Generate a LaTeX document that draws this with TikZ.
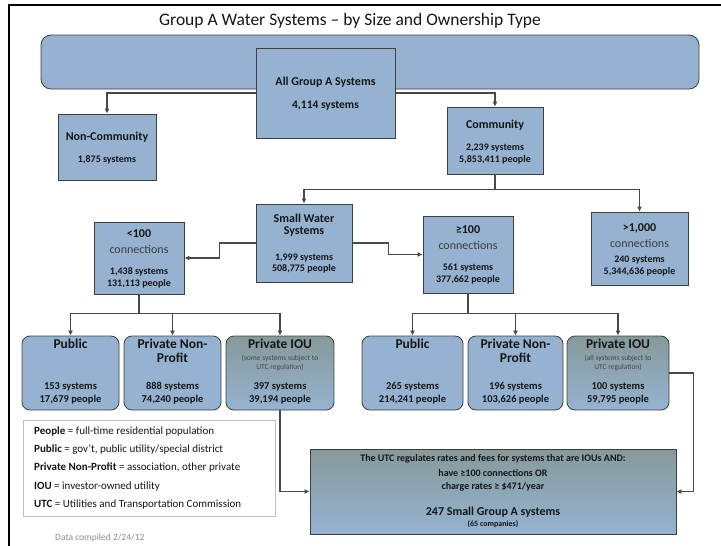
\documentclass[tikz,border=0pt]{standalone}
\usepackage{fontspec}
\setmainfont{Carlito}
\usetikzlibrary{arrows.meta}
\definecolor{boxc}{RGB}{149,179,209}
\definecolor{bordc}{RGB}{62,62,62}
\definecolor{linec}{RGB}{72,72,72}
\definecolor{gtop}{RGB}{134,154,154}
\definecolor{txtc}{RGB}{22,22,22}
\definecolor{conc}{RGB}{60,60,60}
\definecolor{smc}{RGB}{70,70,70}
\definecolor{lgc}{RGB}{190,190,190}
\definecolor{datac}{RGB}{140,140,140}
\newcommand\mkbox[6]{\node[#1, minimum width={#4-#2}, minimum height={#5-#3}] (#6) at ({(#2+#4)/2},{(#3+#5)/2}) {};}
\begin{document}
\begin{tikzpicture}[x=1pt,y=-1pt,
  box/.style={draw=bordc, fill=boxc, line width=0.8pt, inner sep=0pt},
  rbg/.style={box, rounded corners=10pt},
  rbox/.style={box, rounded corners=8pt},
  gbox/.style={draw=bordc, line width=0.8pt, inner sep=0pt, rounded corners=8pt, top color=gtop, bottom color=boxc},
  ubox/.style={draw=bordc, line width=0.8pt, inner sep=0pt, top color=gtop, bottom color=boxc},
  lgbox/.style={draw=lgc, fill=white, line width=0.8pt, inner sep=0pt},
  tt/.style={inner sep=0pt, text=txtc},
  hd/.style={tt, font=\fontsize{12}{14}\selectfont\bfseries},
  hb/.style={tt, font=\fontsize{13.5}{16}\selectfont\bfseries},
  nm/.style={tt, font=\fontsize{10}{12}\selectfont\bfseries},
  nb/.style={tt, font=\fontsize{10.5}{12}\selectfont\bfseries},
  cn/.style={inner sep=0pt, text=conc, font=\fontsize{12}{14}\selectfont},
  sm/.style={inner sep=0pt, text=smc, font=\fontsize{7.5}{9}\selectfont},
  lgt/.style={inner sep=0pt, text=txtc, anchor=west, font=\fontsize{11}{13}\selectfont},
  ln/.style={draw=linec, line width=1.3pt},
  arr/.style={ln, -{Latex[length=5pt,width=5pt]}},
]
\useasboundingbox (0,0) rectangle (721,546);
\draw[line width=2pt, line join=miter] (9,548) -- (9,5) -- (723,5);
\node[inner sep=0pt, text=txtc, font=\fontsize{17.5}{20}\selectfont] (title) at (350,21) {Group A Water Systems – by Size and Ownership Type};

% boxes
\mkbox{rbg}{41}{35}{699}{89}{bg}
\mkbox{box}{256}{48}{395}{138}{all}
\mkbox{box}{58}{114}{156}{180}{nc}
\mkbox{box}{447}{107}{543}{174}{com}
\mkbox{box}{256}{204}{352}{282}{sws}
\mkbox{box}{94}{222}{184}{294}{lt}
\mkbox{box}{423}{216}{513}{293}{ge}
\mkbox{box}{591}{212}{688}{285}{big}
\mkbox{rbox}{22}{336}{119}{410}{pubL}
\mkbox{rbox}{124}{336}{221}{410}{pnpL}
\mkbox{gbox}{226}{336}{334}{410}{iouL}
\mkbox{rbox}{362}{336}{463}{410}{pubR}
\mkbox{rbox}{468}{336}{563}{410}{pnpR}
\mkbox{gbox}{567}{336}{669}{410}{iouR}
\mkbox{ubox}{310}{449}{676}{534}{utc}
\mkbox{lgbox}{23}{420}{275}{516}{lg}

% connectors
\draw[arr] (all.west) -| (nc.north);
\draw[arr] (all.east) -| (com.north);
\draw[ln] (com.south) -- ++(0,15) coordinate (cbar);
\draw[arr] (cbar) -| (sws.north);
\draw[arr] (cbar) -| (big.north);
\draw[arr] (sws.west) -- ++(-36,0) |- (lt.east);
\draw[arr] (sws.east) -- ++(36,0) |- (ge.west);
\draw[ln] (lt.south) -- ++(0,19) coordinate (lbar);
\draw[arr] (lbar) -| (pubL.north);
\draw[arr] (lbar) -| (pnpL.north);
\draw[arr] (lbar) -| (iouL.north);
\draw[ln] (ge.south) -- ++(0,20) coordinate (rbar);
\draw[arr] (rbar) -| (pubR.north);
\draw[arr] (rbar) -| (pnpR.north);
\draw[arr] (rbar) -| (iouR.north);
\draw[arr] (iouL.south) |- (utc.west);
\draw[arr] (iouR.east) -- ++(24,0) |- (utc.east);

% texts
\node[hd] (all-h) at (325.5,82) {All Group A Systems};
\node[tt, font=\fontsize{11.5}{13}\selectfont\bfseries] (all-n) at (325.5,106) {4,114 systems};
\node[hd] (nc-h) at (107,137) {Non-Community};
\node[nm] (nc-n) at (107,160) {1,875 systems};
\node[hd] (com-h) at (495,125) {Community};
\node[nm] (com-n1) at (495,148) {2,239 systems};
\node[nm] (com-n2) at (495,160) {5,853,411 people};
\node[hd] (sws-h1) at (304,218) {Small Water};
\node[hd] (sws-h2) at (304,232) {Systems};
\node[nm] (sws-n1) at (304,258) {1,999 systems};
\node[nm] (sws-n2) at (304,269) {508,775 people};
\node[hd] (lt-h) at (139,234) {<100};
\node[cn] (lt-c) at (139,249) {connections};
\node[nm] (lt-n1) at (139,272) {1,438 systems};
\node[nm] (lt-n2) at (139,284) {131,113 people};
\node[hd] (ge-h) at (468,230) {≥100};
\node[cn] (ge-c) at (468,245) {connections};
\node[nm] (ge-n1) at (468,268) {561 systems};
\node[nm] (ge-n2) at (468,280) {377,662 people};
\node[hd] (big-h) at (639.5,228) {>1,000};
\node[cn] (big-c) at (639.5,243) {connections};
\node[nm] (big-n1) at (639.5,260) {240 systems};
\node[nm] (big-n2) at (639.5,272) {5,344,636 people};

\node[hb] (pubL-h) at (70.5,344) {Public};
\node[nb] (pubL-n1) at (70.5,387) {153 systems};
\node[nb] (pubL-n2) at (70.5,400) {17,679 people};
\node[hb] (pnpL-h1) at (172.5,344) {Private Non-};
\node[hb] (pnpL-h2) at (172.5,358) {Profit};
\node[nb] (pnpL-n1) at (172.5,387) {888 systems};
\node[nb] (pnpL-n2) at (172.5,400) {74,240 people};
\node[hb] (iouL-h) at (280,344) {Private IOU};
\node[sm] (iouL-s1) at (280,358) {(some systems subject to};
\node[sm] (iouL-s2) at (280,367) {UTC regulation)};
\node[nb] (iouL-n1) at (280,387) {397 systems};
\node[nb] (iouL-n2) at (280,400) {39,194 people};
\node[hb] (pubR-h) at (412.5,344) {Public};
\node[nb] (pubR-n1) at (412.5,387) {265 systems};
\node[nb] (pubR-n2) at (412.5,400) {214,241 people};
\node[hb] (pnpR-h1) at (515.5,344) {Private Non-};
\node[hb] (pnpR-h2) at (515.5,358) {Profit};
\node[nb] (pnpR-n1) at (515.5,387) {196 systems};
\node[nb] (pnpR-n2) at (515.5,400) {103,626 people};
\node[hb] (iouR-h) at (618,344) {Private IOU};
\node[sm] (iouR-s1) at (618,358) {(all systems subject to};
\node[sm] (iouR-s2) at (618,367) {UTC regulation)};
\node[nb] (iouR-n1) at (618,387) {100 systems};
\node[nb] (iouR-n2) at (618,400) {59,795 people};

\node[nm] (utc-1) at (493,459) {The UTC regulates rates and fees for systems that are IOUs AND:};
\node[nm] (utc-2) at (493,473) {have ≥100 connections OR};
\node[nm] (utc-3) at (493,487) {charge rates ≥ \$471/year};
\node[hd] (utc-4) at (493,512) {247 Small Group A systems};
\node[tt, font=\fontsize{8}{9}\selectfont\bfseries] (utc-5) at (493,524) {(65 companies)};

\node[lgt] (lg-1) at (34,432) {\textbf{People} = full-time residential population};
\node[lgt] (lg-2) at (34,450) {\textbf{Public} = gov’t, public utility/special district};
\node[lgt] (lg-3) at (34,468) {\textbf{Private Non-Profit} = association, other private};
\node[lgt] (lg-4) at (34,487) {\textbf{IOU} = investor-owned utility};
\node[lgt] (lg-5) at (34,505) {\textbf{UTC} = Utilities and Transportation Commission};
\node[inner sep=0pt, anchor=west, text=datac, font=\fontsize{9.5}{11}\selectfont] (data) at (55,538) {Data compiled 2/24/12};
\end{tikzpicture}
\end{document}
